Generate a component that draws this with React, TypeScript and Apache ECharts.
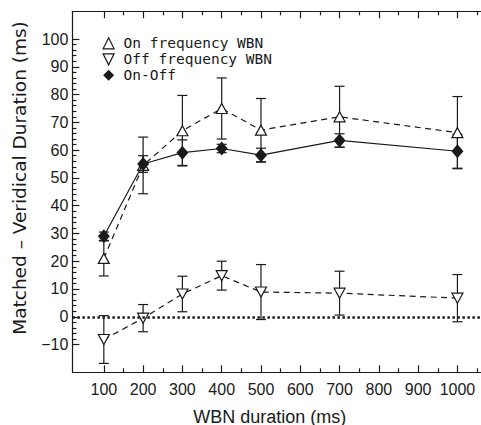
import React, { useEffect, useRef } from 'react';
import * as echarts from 'echarts';

// ---- data ----
const durations = [100, 200, 300, 400, 500, 700, 1000];
const onFreq = [21.0, 54.5, 67.0, 75.0, 67.2, 72.0, 66.3];
const onFreqErr = [6.3, 10.2, 12.7, 11.0, 11.4, 11.0, 13.0];
const offFreq = [-8.2, -0.5, 8.2, 14.8, 8.9, 8.5, 6.7];
const offFreqErr = [8.6, 4.9, 6.4, 5.2, 9.9, 7.9, 8.5];
const onOff = [29.0, 55.0, 59.1, 60.6, 58.2, 63.5, 59.6];
const onOffErr = [1.5, 3.0, 4.6, 1.5, 2.5, 2.4, 6.1];

const seriesNames = ['On frequency WBN', 'Off frequency WBN', 'On-Off'];

// ---- axis tick values ----
const xMajorTicks = [100, 200, 300, 400, 500, 600, 700, 800, 900, 1000];
const xMinorTicks = [150, 250, 350, 450, 550, 650, 750, 850, 950, 1050];
const yMajorTicks = [-10, 0, 10, 20, 30, 40, 50, 60, 70, 80, 90, 100];
const yMinorSteps = [2, 4, 6, 8];
const yMinorTicks = yMajorTicks.slice(0, -1).flatMap((v) => yMinorSteps.map((s) => v + s));

const xTitle = 'WBN duration (ms)';
const yTitle = 'Matched – Veridical Duration (ms)';

const INK = '#1a1a1a';
const X_MIN = 20;
const X_MAX = 1060;
const Y_MIN = -20;
const Y_MAX = 110;
const DOWN_TRI = 'path://M0,0L10,0L5,10Z';

const GRID = { left: 72.4, top: 11.3, width: 411.4, height: 361 };

const errData = (vals: number[], errs: number[]) =>
  durations.map((d, i) => [d, vals[i] - errs[i], vals[i] + errs[i]]);

const pairs = (vals: number[]) => durations.map((d, i) => [d, vals[i]]);

const errRender = (_params: any, api: any) => {
  const x = api.value(0);
  const top = api.coord([x, api.value(2)]);
  const bot = api.coord([x, api.value(1)]);
  const w = 5;
  const style = { stroke: INK, lineWidth: 1.2, fill: 'none' };
  return {
    type: 'group',
    children: [
      { type: 'line', shape: { x1: top[0], y1: top[1], x2: bot[0], y2: bot[1] }, style },
      { type: 'line', shape: { x1: top[0] - w, y1: top[1], x2: top[0] + w, y2: top[1] }, style },
      { type: 'line', shape: { x1: bot[0] - w, y1: bot[1], x2: bot[0] + w, y2: bot[1] }, style },
    ],
  };
};

const axisLineStyle = { color: INK, width: 1.2 };

export default function App() {
  const ref = useRef<HTMLDivElement>(null);

  useEffect(() => {
    if (!ref.current) return;
    const chart = echarts.init(ref.current, undefined, { renderer: 'svg' });

    const hollow = { color: '#fff', borderColor: INK, borderWidth: 1.2 };

    const option: any = {
      animation: false,
      backgroundColor: '#fff',
      grid: [
        { ...GRID, containLabel: false },
        { ...GRID, containLabel: false },
      ],
      xAxis: [
        {
          type: 'value', gridIndex: 0, position: 'bottom', min: X_MIN, max: X_MAX,
          axisLine: { show: true, onZero: false, lineStyle: axisLineStyle },
          axisTick: { show: true, inside: true, length: 7, customValues: xMajorTicks, lineStyle: axisLineStyle },
          axisLabel: {
            show: true, customValues: xMajorTicks, margin: 9, fontSize: 16,
            fontFamily: 'Liberation Sans', color: INK,
            formatter: (v: number) => String(v),
          },
          splitLine: { show: false },
        },
        {
          type: 'value', gridIndex: 0, position: 'top', min: X_MIN, max: X_MAX,
          axisLine: { show: true, onZero: false, lineStyle: axisLineStyle },
          axisTick: { show: true, inside: true, length: 7, customValues: xMajorTicks, lineStyle: axisLineStyle },
          axisLabel: { show: false },
          splitLine: { show: false },
        },
        {
          type: 'value', gridIndex: 1, position: 'bottom', min: X_MIN, max: X_MAX,
          axisLine: { show: false, onZero: false },
          axisTick: { show: true, inside: true, length: 4, customValues: xMinorTicks, lineStyle: axisLineStyle },
          axisLabel: { show: false },
          splitLine: { show: false },
        },
        {
          type: 'value', gridIndex: 1, position: 'top', min: X_MIN, max: X_MAX,
          axisLine: { show: false, onZero: false },
          axisTick: { show: true, inside: true, length: 4, customValues: xMinorTicks, lineStyle: axisLineStyle },
          axisLabel: { show: false },
          splitLine: { show: false },
        },
      ],
      yAxis: [
        {
          type: 'value', gridIndex: 0, position: 'left', min: Y_MIN, max: Y_MAX,
          axisLine: { show: true, onZero: false, lineStyle: axisLineStyle },
          axisTick: { show: true, inside: true, length: 7, customValues: yMajorTicks, lineStyle: axisLineStyle },
          axisLabel: {
            show: true, customValues: yMajorTicks, margin: 4, fontSize: 16,
            fontFamily: 'Liberation Sans', color: INK,
            formatter: (v: number) => String(v).replace('-', '\u2212'),
          },
          splitLine: { show: false },
        },
        {
          type: 'value', gridIndex: 1, position: 'left', min: Y_MIN, max: Y_MAX,
          axisLine: { show: false, onZero: false },
          axisTick: { show: true, inside: true, length: 4, customValues: yMinorTicks, lineStyle: axisLineStyle },
          axisLabel: { show: false },
          splitLine: { show: false },
        },
      ],
      legend: {
        orient: 'vertical',
        left: 97.5,
        top: 30.3,
        itemWidth: 11,
        itemHeight: 11,
        itemGap: 0,
        selectedMode: false,
        lineStyle: { width: 0, opacity: 0 },
        textStyle: {
          fontFamily: 'DejaVu Sans Mono', fontSize: 14.5, color: INK, lineHeight: 16,
          padding: [0, 0, 0, 4.5],
        },
        data: [
          { name: seriesNames[0], icon: 'triangle', itemStyle: hollow },
          { name: seriesNames[1], icon: DOWN_TRI, itemStyle: hollow },
          { name: seriesNames[2], icon: 'diamond', itemStyle: { color: INK, borderWidth: 0 } },
        ],
      },
      graphic: [
        {
          type: 'text', x: 269.7, y: 416.5, silent: true,
          style: {
            text: xTitle, fontSize: 18, fontFamily: 'Liberation Sans', fill: INK,
            align: 'center', verticalAlign: 'middle', textAlign: 'center', textVerticalAlign: 'middle',
          },
        },
        {
          type: 'text', x: 19.5, y: 178, rotation: Math.PI / 2, silent: true,
          style: {
            text: yTitle, fontSize: 18.5, fontFamily: 'DejaVu Sans', fill: INK,
            align: 'center', verticalAlign: 'middle', textAlign: 'center', textVerticalAlign: 'middle',
          },
        },
      ],
      series: [
        {
          type: 'custom', name: 'onFreqErr', renderItem: errRender, data: errData(onFreq, onFreqErr),
          encode: { x: 0, y: [1, 2] }, z: 1, silent: true,
        },
        {
          type: 'custom', name: 'offFreqErr', renderItem: errRender, data: errData(offFreq, offFreqErr),
          encode: { x: 0, y: [1, 2] }, z: 1, silent: true,
        },
        {
          type: 'custom', name: 'onOffErr', renderItem: errRender, data: errData(onOff, onOffErr),
          encode: { x: 0, y: [1, 2] }, z: 1, silent: true,
        },
        {
          type: 'line', name: seriesNames[0], data: pairs(onFreq), z: 3,
          symbol: 'triangle', symbolSize: [11, 10], showAllSymbol: true,
          itemStyle: hollow,
          lineStyle: { color: INK, width: 1.2, type: [6, 4.5] },
          silent: true,
        },
        {
          type: 'line', name: seriesNames[1], data: pairs(offFreq), z: 3,
          symbol: DOWN_TRI, symbolSize: [11, 10], showAllSymbol: true,
          itemStyle: hollow,
          lineStyle: { color: INK, width: 1.2, type: [6, 4.5] },
          silent: true,
          markLine: {
            silent: true, symbol: 'none', label: { show: false },
            lineStyle: { color: INK, width: 2.5, type: [2.5, 2.5] },
            data: [{ yAxis: 0 }],
          },
        },
        {
          type: 'line', name: seriesNames[2], data: pairs(onOff), z: 4,
          symbol: 'diamond', symbolSize: [12, 14], showAllSymbol: true,
          itemStyle: { color: INK },
          lineStyle: { color: INK, width: 1.2, type: 'solid' },
          silent: true,
        },
      ],
    };

    chart.setOption(option);
    return () => chart.dispose();
  }, []);

  return (
    <div
      ref={ref}
      style={{ position: 'fixed', left: 0, top: 0, width: 481, height: 425, background: '#fff' }}
    />
  );
}
